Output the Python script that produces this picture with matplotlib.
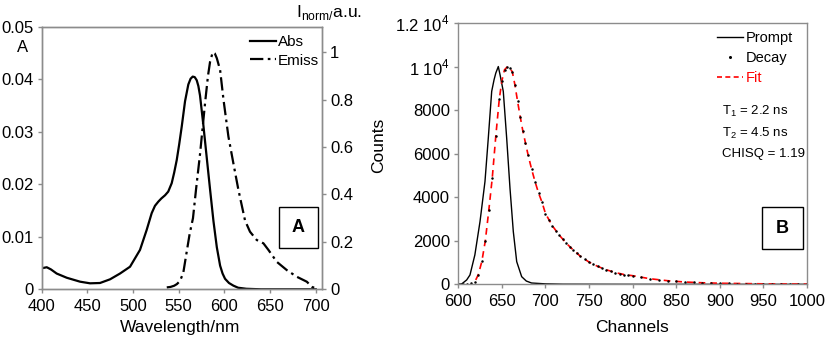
import matplotlib
matplotlib.use("Agg")
import matplotlib.pyplot as plt
from matplotlib.lines import Line2D
from matplotlib.patches import Rectangle

plt.rcParams['font.family'] = ['Liberation Sans', 'DejaVu Sans']
plt.rcParams['mathtext.fontset'] = 'custom'
plt.rcParams['mathtext.rm'] = 'Liberation Sans'

# ---------------- Panel A data ----------------
abs_wl = [400, 405.5, 410, 416.4, 427.4, 442, 452.9, 463.8, 474.8, 485.7, 496.7, 507.6,
          514.9, 520.4, 524, 527.7, 531, 535, 538.5, 542.3, 545, 547.8, 550.5, 553.3, 556.9,
          560.5, 563, 565.3, 567.5, 569.7, 571.5, 573.3, 577, 580.7, 584.3, 588, 591.7,
          595.3, 598, 600.7, 605, 609.8, 615, 624, 640, 660, 680, 700]
abs_val = [0.0040, 0.0042, 0.0038, 0.0030, 0.0022, 0.00145, 0.00114, 0.0012, 0.0019, 0.0030,
           0.0043, 0.0075, 0.0113, 0.0145, 0.0159, 0.0167, 0.0173, 0.0179, 0.0186, 0.0202,
           0.0222, 0.0246, 0.0276, 0.0310, 0.0358, 0.0390, 0.0401, 0.0405, 0.0404, 0.0398,
           0.0387, 0.0369, 0.0312, 0.0250, 0.0190, 0.0130, 0.0080, 0.0045, 0.0030, 0.0020,
           0.0012, 0.0007, 0.0003, 0.0001, 0.0, 0.0, 0.0, 0.0]

em_wl = [536.9, 541, 545, 548, 551.4, 555, 558.8, 562, 565.6, 568.9, 573.3, 578.8, 582,
         584.3, 587.2, 589.5, 591.7, 595.3, 599, 604.4, 609.9, 615.3, 622.6, 628, 635.4,
         642.7, 648.2, 657.3, 668.3, 679.2, 690.2, 695.6, 699]
em_val = [0.008, 0.010, 0.015, 0.022, 0.035, 0.070, 0.160, 0.235, 0.300, 0.420, 0.570,
          0.785, 0.900, 0.960, 1.0, 0.995, 0.975, 0.925, 0.80, 0.644, 0.53, 0.42, 0.29,
          0.243, 0.208, 0.194, 0.166, 0.116, 0.081, 0.053, 0.032, 0.011, 0.005]

a_xticks = [400, 450, 500, 550, 600, 650, 700]
a_lyticks = [0, 0.01, 0.02, 0.03, 0.04, 0.05]
a_lylabels = ['0', '0.01', '0.02', '0.03', '0.04', '0.05']
a_ryticks = [0, 0.2, 0.4, 0.6, 0.8, 1.0]
a_rylabels = ['0', '0.2', '0.4', '0.6', '0.8', '1']

# ---------------- Panel B data ----------------
prompt_ch = [600, 604, 609.6, 613.4, 619, 624.9, 630.6, 634.4, 638.3, 641, 643, 645.9,
             648, 651.6, 655.5, 659.3, 663.1, 667, 672.7, 678, 684, 700, 720, 800, 1000]
prompt_ct = [0, 20, 200, 430, 1350, 2880, 4720, 6710, 8860, 9390, 9700, 10000,
             9600, 8860, 6710, 4410, 2420, 1040, 350, 150, 60, 20, 5, 0, 0]

decay_ch = [600, 605, 610, 615, 619, 623, 627, 631, 635, 639, 643, 647, 650, 653, 656,
            659, 662, 665, 668, 671, 674, 677, 680, 684, 688, 692, 696, 700, 704, 708,
            712, 716, 720, 724, 728, 732, 736, 740, 745, 750, 755, 760, 765, 770, 775,
            780, 785, 790, 795, 800, 810, 820, 830, 840, 850, 860, 870, 880, 890, 900,
            910, 920, 930, 940, 950, 960, 970, 980, 990, 1000]
decay_ct = [0, 0, 20, 60, 120, 450, 1050, 2000, 3400, 4900, 6800, 8500, 9350, 9850, 9980,
            9950, 9750, 9150, 8400, 7700, 7050, 6500, 5950, 5300, 4720, 4200, 3770, 3250, 2950, 2680,
            2450, 2250, 2060, 1880, 1720, 1570, 1430, 1290, 1140, 1020, 910, 820, 740, 665, 600,
            540, 490, 450, 420, 395, 320, 255, 205, 165, 135, 105, 85, 70, 58, 48,
            40, 34, 29, 25, 21, 18, 15, 13, 11, 10]

fit_ch = [620, 623, 627, 631, 635, 639, 643, 647, 650, 653, 656, 659, 662, 665, 668, 671,
          674, 677, 680, 684, 688, 692, 696, 700, 708, 716, 724, 732, 740, 750, 760, 770,
          780, 790, 800, 820, 840, 860, 880, 900, 950, 1000]
fit_ct = [200, 450, 1050, 2000, 3400, 4900, 6800, 8500, 9350, 9850, 9980, 9950, 9750, 9150,
          8400, 7700, 7050, 6500, 5950, 5300, 4720, 4200, 3770, 3250, 2680, 2250, 1880, 1570,
          1290, 1020, 820, 665, 540, 450, 395, 255, 165, 105, 70, 48, 21, 10]

b_xticks = [600, 650, 700, 750, 800, 850, 900, 950, 1000]
b_yticks = [0, 2000, 4000, 6000, 8000, 10000, 12000]
b_ylabels = ['0', '2000', '4000', '6000', '8000', r'1 10$^{\mathregular{4}}$',
             r'1.2 10$^{\mathregular{4}}$']

W, H = 829, 339
fig = plt.figure(figsize=(W / 100, H / 100), dpi=100)

def fx(px):
    return px / W

def fy(py):
    return 1 - py / H

FS = 12
LFS = 12.5
SPINE = '#8c8c8c'

def style_ticks(ax):
    ax.tick_params(direction='out', length=3, width=1, color=SPINE, labelsize=FS)
    ax.tick_params(axis='x', pad=4)
    ax.tick_params(axis='y', pad=3)

# ---------------- Panel A ----------------
axA = fig.add_axes([fx(41.7), fy(289.3), (321.7 - 41.7) / W, (289.3 - 26.7) / H])
axA.plot(abs_wl, abs_val, color='black', lw=1.6)
axA.set_xlim(400, 706.5)
axA.set_ylim(0, 0.05)
axA.set_xticks(a_xticks)
axA.set_yticks(a_lyticks)
axA.set_yticklabels(a_lylabels)
axR = axA.twinx()
axR.plot(em_wl, em_val, color='black', lw=1.6, dashes=[6, 2, 1.2, 2])
axR.set_ylim(0, 1.108)
axR.set_yticks(a_ryticks)
axR.set_yticklabels(a_rylabels)

for ax in (axA, axR):
    for s in ax.spines.values():
        s.set_color(SPINE)
        s.set_linewidth(1)
    style_ticks(ax)

axA.set_xlabel('Wavelength/nm', fontsize=LFS)
axA.xaxis.set_label_coords(0.494, (289.3 - 320) / 262.6)
fig.text(fx(22.5), fy(47.5), 'A', fontsize=FS, ha='center', va='center')
fig.text(fx(296), fy(13), r'I$_{\mathregular{norm/}}$a.u.', fontsize=LFS,
         ha='left', va='center')

handlesA = [Line2D([], [], color='black', lw=1.6),
            Line2D([], [], color='black', lw=1.6, dashes=[6, 2, 1.2, 2])]
legA = axA.legend(handlesA, ['Abs', 'Emiss'], loc='upper left',
                  bbox_to_anchor=((250 - 41.7) / 280, (289.3 - 35) / 262.6),
                  frameon=False, fontsize=11, handlelength=1.7, handletextpad=0.1,
                  borderpad=0, borderaxespad=0, labelspacing=0.3)

axA.add_patch(Rectangle((0.847, 0.157), 0.14, 0.156, transform=axA.transAxes,
                        fill=False, edgecolor='black', lw=1, zorder=5))
axA.text(0.917, 0.235, 'A', transform=axA.transAxes, ha='center', va='center',
         fontsize=13, fontweight='bold')

# ---------------- Panel B ----------------
axB = fig.add_axes([fx(458.3), fy(284.3), (807 - 458.3) / W, (284.3 - 23) / H])
axB.plot(prompt_ch, prompt_ct, color='black', lw=1.0)
axB.plot(fit_ch, fit_ct, color='red', lw=1.2, dashes=[4, 3])
axB.plot(decay_ch, decay_ct, linestyle='none', marker='o', markersize=1.8,
         color='black', markeredgewidth=0)
axB.set_xlim(600, 1000)
axB.set_ylim(0, 12000)
axB.set_xticks(b_xticks)
axB.set_yticks(b_yticks)
axB.set_yticklabels(b_ylabels)
for s in axB.spines.values():
    s.set_color(SPINE)
    s.set_linewidth(1)
style_ticks(axB)
axB.set_xlabel('Channels', fontsize=LFS)
axB.xaxis.set_label_coords(0.498, (284.3 - 320) / 261.3)
axB.set_ylabel('Counts', fontsize=LFS)
axB.yaxis.set_label_coords(-0.207, 0.533)

handlesB = [Line2D([], [], color='black', lw=1.0),
            Line2D([], [], color='black', linestyle='none', marker='o', markersize=2.2,
                   markeredgewidth=0),
            Line2D([], [], color='red', lw=1.2, dashes=[3, 2])]
legB = axB.legend(handlesB, ['Prompt', 'Decay', 'Fit'], loc='upper left',
                  bbox_to_anchor=((717 - 458.3) / 348.7, (284.3 - 31) / 261.3),
                  frameon=False, fontsize=10.5, handlelength=1.8, handletextpad=0.2,
                  borderpad=0, borderaxespad=0, labelspacing=0.4)
legB.get_texts()[2].set_color('red')

tx = (722 - 458.3) / 348.7
axB.text(tx, (284.3 - 111) / 261.3, r'T$_{\mathregular{1}}$ = 2.2 ns', transform=axB.transAxes,
         fontsize=9.5, va='center', ha='left')
axB.text(tx, (284.3 - 133) / 261.3, r'T$_{\mathregular{2}}$ = 4.5 ns', transform=axB.transAxes,
         fontsize=9.5, va='center', ha='left')
axB.text(tx, (284.3 - 154) / 261.3, 'CHISQ = 1.19', transform=axB.transAxes,
         fontsize=9.5, va='center', ha='left')

axB.add_patch(Rectangle((0.871, 0.135), 0.117, 0.161, transform=axB.transAxes,
                        fill=False, edgecolor='black', lw=1, zorder=5))
axB.text(0.9295, 0.215, 'B', transform=axB.transAxes, ha='center', va='center',
         fontsize=13, fontweight='bold')

fig.savefig('out.png', dpi=100)
